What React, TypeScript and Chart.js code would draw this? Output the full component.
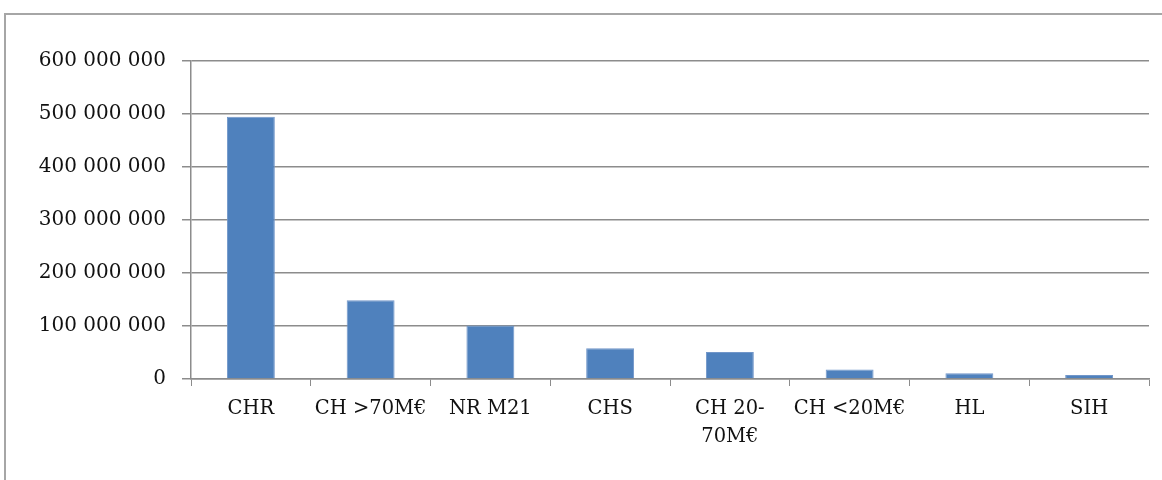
import React, { useEffect, useRef } from "react";
import { Chart, registerables } from "chart.js";

Chart.register(...registerables);

const categories: (string | string[])[] = [
  "CHR",
  "CH >70M€",
  "NR M21",
  "CHS",
  ["CH 20-", "70M€"],
  "CH <20M€",
  "HL",
  "SIH",
];
const values: number[] = [
  495000000, 148500000, 101000000, 58000000, 51000000, 18000000, 11000000, 7500000,
];
const yMin = 0;
const yMax = 600000000;
const yStep = 100000000;

const FONT = "'DejaVu Serif', serif";

function fmt(v: number): string {
  return String(Math.round(v)).replace(/\B(?=(\d{3})+(?!\d))/g, " ");
}

export default function App() {
  const ref = useRef<HTMLCanvasElement | null>(null);

  useEffect(() => {
    if (!ref.current) return;
    const chart = new Chart(ref.current, {
      type: "bar",
      data: {
        labels: categories,
        datasets: [
          {
            data: values,
            backgroundColor: "#4f81bd",
            borderColor: "#7196c9",
            borderWidth: 1,
            categoryPercentage: 1,
            barPercentage: 0.4,
          },
        ],
      },
      options: {
        animation: false,
        responsive: true,
        maintainAspectRatio: false,
        layout: { padding: { top: 61, right: 13, left: 0, bottom: 0 } },
        plugins: { legend: { display: false }, tooltip: { enabled: false } },
        scales: {
          x: {
            grid: {
              drawOnChartArea: false,
              drawTicks: true,
              tickLength: 7,
              color: "#8c8c8c",
              lineWidth: 1,
            },
            border: { color: "#8c8c8c", width: 1.5 },
            ticks: {
              color: "#111",
              font: { family: FONT, size: 19.5, lineHeight: 1.45 },
              padding: 9,
              maxRotation: 0,
              autoSkip: false,
            },
            afterFit: (s: any) => {
              s.height = 101;
            },
          },
          y: {
            min: yMin,
            max: yMax,
            grid: {
              color: "#8c8c8c",
              lineWidth: 1.5,
              tickLength: 9,
            },
            border: { color: "#8c8c8c", width: 1.5 },
            ticks: {
              stepSize: yStep,
              color: "#111",
              font: { family: FONT, size: 20 },
              padding: 16,
              callback: (v: any) => fmt(Number(v)),
            },
            afterFit: (s: any) => {
              s.width = 191;
            },
          },
        },
      },
    });
    return () => chart.destroy();
  }, []);

  return (
    <div
      style={{
        position: "absolute",
        left: 0,
        top: 0,
        width: 1162,
        height: 480,
        overflow: "hidden",
        background: "#fff",
      }}
    >
      <div
        style={{
          position: "absolute",
          left: 4,
          top: 13,
          width: 1300,
          height: 600,
          border: "2px solid #a6a6a6",
          boxSizing: "border-box",
        }}
      />
      <div style={{ position: "absolute", left: 0, top: 0, width: 1162, height: 480 }}>
        <canvas ref={ref} />
      </div>
    </div>
  );
}
